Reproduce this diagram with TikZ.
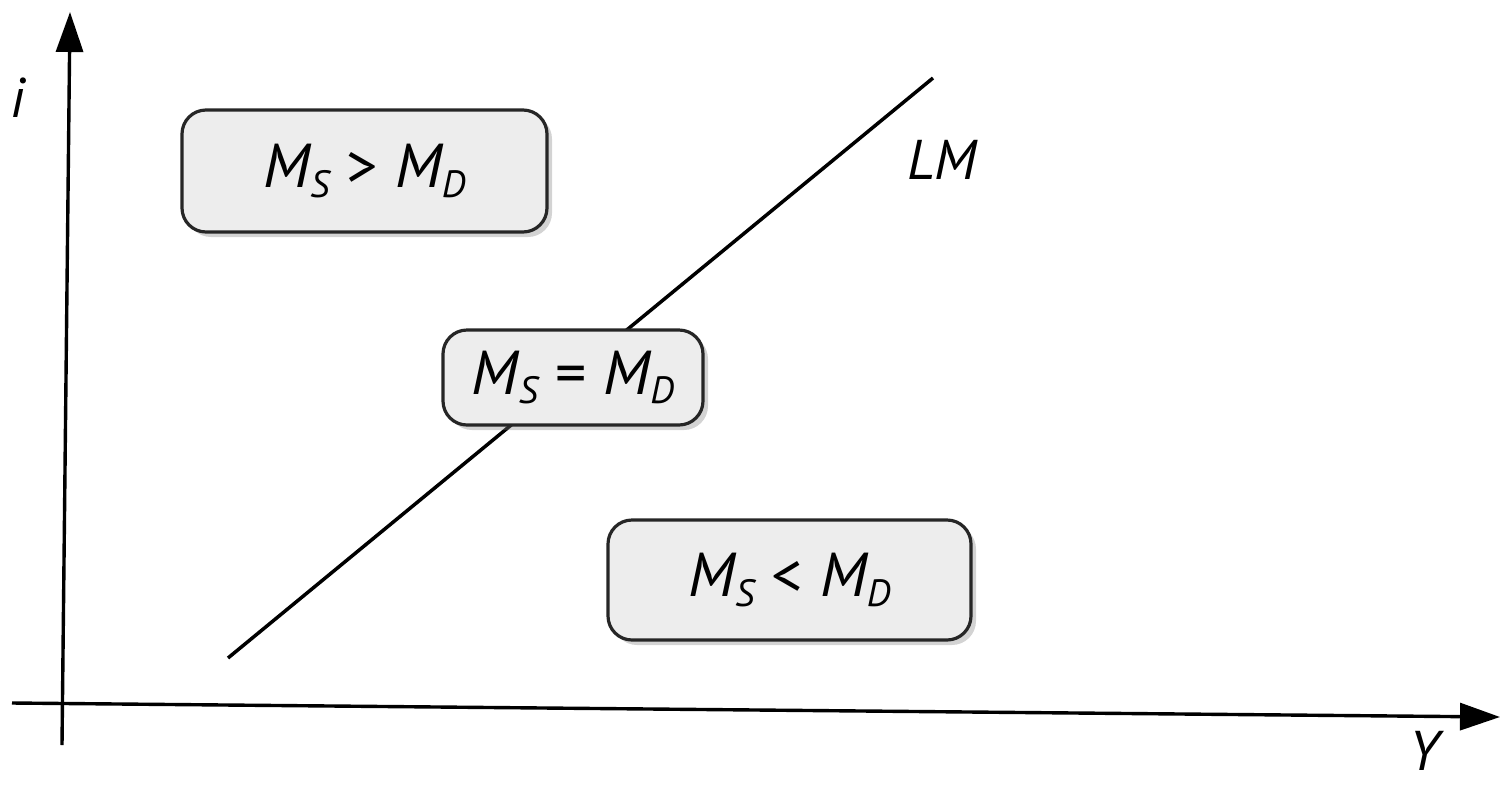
\documentclass[tikz,border=0pt]{standalone}
\usepackage{fontspec}
\setmainfont{PT Sans}
\usetikzlibrary{arrows.meta,shadows}
\newcommand{\msub}[1]{\raisebox{-0.16em}{\fontsize{38}{38}\selectfont #1}}
\newcommand{\mrel}[1]{\;\upshape#1\;\itshape}
\begin{document}
\begin{tikzpicture}[x=1pt,y=-1pt,
  axis/.style={line width=3.4pt,-{Triangle[length=40pt,width=27pt]}},
  curve/.style={line width=3.5pt},
  eqbox/.style={draw=black!85,line width=3.2pt,rounded corners=24pt,fill=black!7,
    drop shadow={opacity=0.35,shadow xshift=5pt,shadow yshift=-5pt},
    font=\fontsize{62}{66}\selectfont\itshape,inner sep=0pt,anchor=center},
  lbl/.style={font=\fontsize{56}{60}\selectfont\itshape,inner sep=0pt}]
\useasboundingbox (0,0) rectangle (1501,788);
\coordinate (yb) at (62,745);
\coordinate (yt) at (70,12);
\coordinate (xl) at (12,703);
\coordinate (xr) at (1500,717);
\coordinate (lma) at (228,658);
\coordinate (lmb) at (933,78);
\draw[axis] (yb) -- (yt);
\draw[axis] (xl) -- (xr);
\draw[curve] (lma) -- (lmb);
\node[eqbox,minimum width=365pt,minimum height=122pt] (b1) at (364.5,171) {M\msub{S}\mrel{>}M\msub{D}};
\node[eqbox,minimum width=260pt,minimum height=95pt] (b2) at (573,377.5) {M\msub{S}\mrel{=}M\msub{D}};
\node[eqbox,minimum width=363pt,minimum height=120pt] (b3) at (789.5,580) {M\msub{S}\mrel{<}M\msub{D}};
\node[lbl] (li) at (18,98) {i};
\node[lbl] (lY) at (1424,751) {Y};
\node[lbl] (lLM) at (942,160) {LM};
\end{tikzpicture}
\end{document}
